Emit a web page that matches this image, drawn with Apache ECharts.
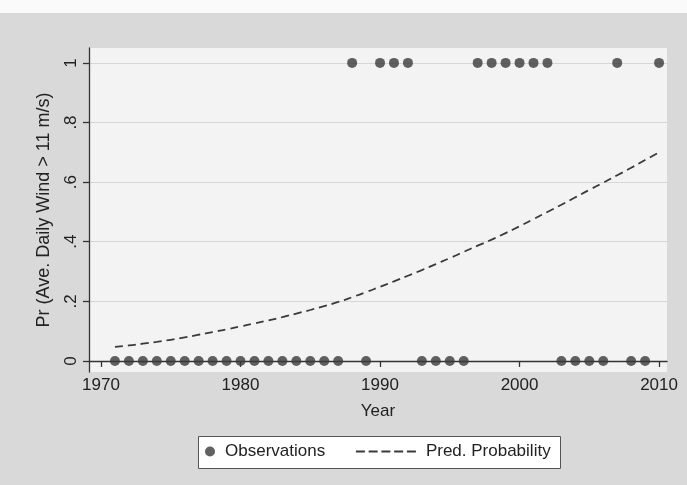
<!DOCTYPE html>
<html>
<head>
<meta charset="utf-8">
<script src="https://cdn.jsdelivr.net/npm/echarts@6/dist/echarts.min.js"></script>
<style>
html,body{margin:0;padding:0;background:#d9d9d9;}
#chart{width:687px;height:485px;}
</style>
</head>
<body>
<div id="chart"></div>
<script>
// Years and observed outcome (1 = windy year, 0 = not)
const years = [
  1971,1972,1973,1974,1975,1976,1977,1978,1979,1980,
  1981,1982,1983,1984,1985,1986,1987,1988,1989,1990,
  1991,1992,1993,1994,1995,1996,1997,1998,1999,2000,
  2001,2002,2003,2004,2005,2006,2007,2008,2009,2010
];
const observations = [
  0,0,0,0,0,0,0,0,0,0,
  0,0,0,0,0,0,0,1,0,1,
  1,1,0,0,0,0,1,1,1,1,
  1,1,0,0,0,0,1,0,0,1
];
// Predicted probability
const predicted = [
  0.047,0.052,0.058,0.064,0.071,0.079,0.088,0.097,0.106,0.116,
  0.126,0.136,0.147,0.159,0.171,0.184,0.198,0.214,0.231,0.249,
  0.267,0.286,0.305,0.325,0.345,0.366,0.387,0.407,0.429,0.452,
  0.476,0.500,0.524,0.549,0.574,0.598,0.623,0.648,0.674,0.700
];
const xTicks = [1970, 1980, 1990, 2000, 2010];
const yTicks = [0, 0.2, 0.4, 0.6, 0.8, 1];
const yTickLabels = ['0', '.2', '.4', '.6', '.8', '1'];

const chart = echarts.init(document.getElementById('chart'));
const font = 'Liberation Sans, Arial, sans-serif';
const ink = '#3a3a3a';
chart.setOption({
  backgroundColor: '#d9d9d9',
  animation: false,
  textStyle: { fontFamily: font },
  graphic: [
    { type: 'rect', left: 0, top: 0, shape: { width: 687, height: 13 }, style: { fill: '#fafafa' }, z: -10 },
    { type: 'rect', left: 198, top: 436, shape: { width: 362, height: 32 },
      style: { fill: '#ffffff', stroke: '#555', lineWidth: 1 }, z: 0 }
  ],
  grid: {
    left: 89, right: 20, top: 48, bottom: 113,
    show: true, backgroundColor: '#f3f3f3', borderWidth: 0
  },
  legend: [
    {
      left: 205, top: 443, padding: 0, z: 5,
      itemWidth: 10, itemHeight: 10,
      textStyle: { fontSize: 17, color: '#222', fontFamily: font, padding: [0, 0, 0, 5] },
      data: [{ name: 'Observations', icon: 'circle', itemStyle: { color: ink } }]
    },
    {
      left: 355, top: 443, padding: 0, z: 5,
      itemWidth: 60, itemHeight: 10,
      textStyle: { fontSize: 17, color: '#222', fontFamily: font, padding: [0, 0, 0, 5] },
      data: [{ name: 'Pred. Probability', itemStyle: { opacity: 0 },
               lineStyle: { color: ink, width: 1.8, type: [9, 3.75] } }]
    }
  ],
  xAxis: {
    type: 'value', min: 1969.14, max: 2010.57,
    name: 'Year', nameLocation: 'middle', nameGap: 31,
    nameTextStyle: { fontSize: 17, color: '#222', fontFamily: font },
    axisLine: { show: true, lineStyle: { color: '#333', width: 1.3 } },
    axisTick: { show: true, length: 6, lineStyle: { color: '#333', width: 1.3 }, customValues: xTicks },
    axisLabel: { fontSize: 17, color: '#222', margin: 5, customValues: xTicks, formatter: v => String(v) },
    splitLine: { show: false }
  },
  yAxis: {
    type: 'value', min: -0.037, max: 1.05,
    name: 'Pr (Ave. Daily Wind > 11 m/s)', nameLocation: 'middle', nameGap: 36, nameRotate: 90,
    nameTextStyle: { fontSize: 18, color: '#222', fontFamily: font },
    axisLine: { show: true, lineStyle: { color: '#333', width: 1.3 } },
    axisTick: { show: true, length: 6, lineStyle: { color: '#333', width: 1.3 }, customValues: yTicks },
    axisLabel: {
      fontSize: 17, color: '#222', margin: 9, rotate: 90, customValues: yTicks,
      formatter: v => { const i = yTicks.findIndex(t => Math.abs(t - v) < 1e-6); return i >= 0 ? yTickLabels[i] : ''; }
    },
    splitLine: { show: true, lineStyle: { color: '#d6d6d6', width: 1 } }
  },
  series: [
    {
      name: 'Observations', type: 'scatter',
      data: years.map((y, i) => [y, observations[i]]),
      symbol: 'circle', symbolSize: 10,
      itemStyle: { color: ink }, z: 3
    },
    {
      name: 'Pred. Probability', type: 'line',
      data: years.map((y, i) => [y, predicted[i]]),
      symbol: 'none', smooth: true,
      lineStyle: { color: ink, width: 1.8, type: [8, 5] },
      itemStyle: { color: ink }, z: 2
    }
  ]
});
</script>
</body>
</html>
